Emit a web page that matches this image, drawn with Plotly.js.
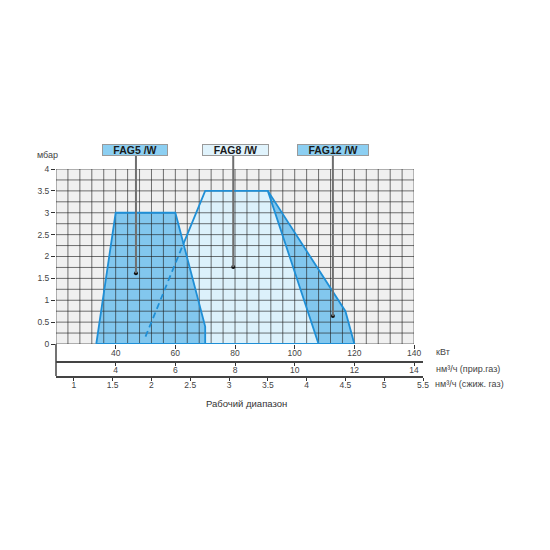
<!DOCTYPE html>
<html><head><meta charset="utf-8">
<script src="https://cdn.plot.ly/plotly-3.0.1.min.js"></script>
<style>body{margin:0;background:#fff}</style>
</head><body>
<div id="chart" style="width:550px;height:550px"></div>
<script>
// ---- data ----
const kwTicks = [40, 60, 80, 100, 120, 140];
const kwTickText = ['40', '60', '80', '100', '120', '140'];
const natTicks = [4, 6, 8, 10, 12, 14];
const natTickText = ['4', '6', '8', '10', '12', '14'];
const lpgTicks = [1, 1.5, 2, 2.5, 3, 3.5, 4, 4.5, 5, 5.5];
const lpgTickText = ['1', '1.5', '2', '2.5', '3', '3.5', '4', '4.5', '5', '5.5'];
const pressTicks = [0, 0.5, 1, 1.5, 2, 2.5, 3, 3.5, 4];
const pressTickText = ['0', '0.5', '1', '1.5', '2', '2.5', '3', '3.5', '4'];

const fag5X = [33.5, 40, 60, 70, 70];
const fag5Y = [0, 3, 3, 0.4, 0];
const fag8X = [49, 70, 91, 108];
const fag8Y = [0, 3.5, 3.5, 0];
const fag12X = [91, 117, 120, 108];
const fag12Y = [3.5, 0.75, 0, 0];
const fag8SolidX = [62.7, 70, 91, 108, 70];
const fag8SolidY = [2.29, 3.5, 3.5, 0, 0];
const fag8DashX = [50, 62.7];
const fag8DashY = [0.17, 2.29];

const models = ['FAG5 /W', 'FAG8 /W', 'FAG12 /W'];
const pointX = [46.8, 79.4, 112.8];
const pointY = [1.62, 1.76, 0.64];
const labelX = [46.6, 80.3, 112.7];

const kwRange = [20, 140];
const pRange = [0, 4];
const kwPerNat = 10;     // kW per nm3/h natural gas
const kwPerLpg = 26;     // kW per nm3/h LPG
const axisEndKw = 143;   // where the lower scales end

// ---- styles ----
const cMid = '#82c7ee', cLight = '#dcf1fb', cEdge = '#1f8fd6', cBg = '#f0f0f0';
const boxFill = ['#8ccff2', '#e0f3fc', '#8ccff2'];
const boxW = [62, 63, 68];
const FONT = 'Liberation Sans, Arial, sans-serif';

// grid lines
const gx = [], gy = [];
for (let v = kwRange[0]; v <= kwRange[1] + 1e-9; v += 4) { gx.push(v, v, null); gy.push(pRange[0], pRange[1], null); }
for (let v = pRange[0]; v <= pRange[1] + 1e-9; v += 0.25) { gx.push(kwRange[0], kwRange[1], null); gy.push(v, v, null); }

const traces = [
  {x: fag8X, y: fag8Y, fill: 'toself', fillcolor: cLight, mode: 'lines', line: {width: 0}, hoverinfo: 'skip'},
  {x: fag5X, y: fag5Y, fill: 'toself', fillcolor: cMid, mode: 'lines', line: {width: 0}, hoverinfo: 'skip'},
  {x: fag12X, y: fag12Y, fill: 'toself', fillcolor: cMid, mode: 'lines', line: {width: 0}, hoverinfo: 'skip'},
  {x: gx, y: gy, mode: 'lines', line: {color: 'rgba(30,30,30,0.62)', width: 1}, hoverinfo: 'skip', connectgaps: false},
  {x: fag5X.concat([fag5X[0]]), y: fag5Y.concat([fag5Y[0]]), mode: 'lines', line: {color: cEdge, width: 1.8}, hoverinfo: 'skip'},
  {x: fag12X, y: fag12Y, mode: 'lines', line: {color: cEdge, width: 1.8}, hoverinfo: 'skip'},
  {x: fag8SolidX, y: fag8SolidY, mode: 'lines', line: {color: cEdge, width: 1.8}, hoverinfo: 'skip'},
  {x: fag8DashX, y: fag8DashY, mode: 'lines', line: {color: cEdge, width: 1.8, dash: '6px,4px'}, hoverinfo: 'skip'},
  {x: pointX, y: pointY, mode: 'markers', marker: {color: '#111', size: 4}, hoverinfo: 'skip'},
  // invisible carriers so the two lower scales are drawn
  {x: natTicks, y: natTicks.map(() => pRange[0]), xaxis: 'x2', yaxis: 'y', mode: 'markers', marker: {opacity: 0}, hoverinfo: 'skip'},
  {x: lpgTicks, y: lpgTicks.map(() => pRange[0]), xaxis: 'x3', yaxis: 'y', mode: 'markers', marker: {opacity: 0}, hoverinfo: 'skip'}
];

const W = 550, H = 550;
const mL = 56, mR = 127, mT = 169, mB = 174;
const plotW = W - mL - mR, plotH = H - mT - mB;
const yDom0 = 32 / plotH;
const xDom1 = (kwRange[1] - kwRange[0]) / (axisEndKw - kwRange[0]);

const tickFont = {family: FONT, size: 8.5, color: '#444'};

const shapes = [
  {type: 'rect', xref: 'x', yref: 'y', x0: kwRange[0], x1: kwRange[1], y0: pRange[0], y1: pRange[1], fillcolor: cBg, line: {width: 0}, layer: 'below'},
  {type: 'line', xref: 'paper', yref: 'paper', x0: 0, x1: 0, y0: 0, y1: yDom0, line: {color: '#444', width: 1.5}}
];
pointX.forEach((px, i) => {
  shapes.push({type: 'line', xref: 'x', yref: 'y domain', x0: px, x1: px, y0: pointY[i] / pRange[1], y1: 1.077,
    line: {color: '#6f6f6f', width: 2}});
});

const annotations = models.map((m, i) => ({
  text: '<b>' + m + '</b>', xref: 'x', yref: 'y domain', x: labelX[i], y: 1.111, xanchor: 'center', yanchor: 'middle',
  showarrow: false, bgcolor: boxFill[i], bordercolor: '#9a9a9a', borderwidth: 1, borderpad: 1, width: boxW[i], height: 8,
  font: {family: FONT, size: 10.5, color: '#1a1a1a'}
}));
const sideFont = {family: FONT, size: 9, color: '#444'};
annotations.push(
  {text: 'мбар', xref: 'paper', yref: 'paper', x: -0.022, y: (plotH - (155 - mT)) / plotH, xanchor: 'center', yanchor: 'middle', showarrow: false, font: sideFont},
  {text: 'кВт', xref: 'paper', yref: 'paper', x: (434 - mL) / plotW, y: (plotH - (352 - mT)) / plotH, xanchor: 'left', yanchor: 'middle', showarrow: false, font: sideFont},
  {text: 'нм³/ч (прир.газ)', xref: 'paper', yref: 'paper', x: (434 - mL) / plotW, y: (plotH - (369 - mT)) / plotH, xanchor: 'left', yanchor: 'middle', showarrow: false, font: sideFont},
  {text: 'нм³/ч (сжиж. газ)', xref: 'paper', yref: 'paper', x: (433 - mL) / plotW, y: (plotH - (384 - mT)) / plotH, xanchor: 'left', yanchor: 'middle', showarrow: false, font: sideFont},
  {text: 'Рабочий диапазон', xref: 'paper', yref: 'paper', x: (246 - mL) / plotW, y: (plotH - (403 - mT)) / plotH, xanchor: 'center', yanchor: 'middle', showarrow: false, font: {family: FONT, size: 9.5, color: '#333'}}
);

const layout = {
  width: W, height: H,
  margin: {l: mL, r: mR, t: mT, b: mB, pad: 0},
  paper_bgcolor: '#fff', plot_bgcolor: 'rgba(0,0,0,0)',
  showlegend: false,
  xaxis: {domain: [0, xDom1], range: kwRange, anchor: 'y', showgrid: false, zeroline: false, showline: false,
    tickmode: 'array', tickvals: kwTicks, ticktext: kwTickText, ticks: 'outside', ticklen: 4, tickcolor: '#333', tickwidth: 1,
    ticklabelstandoff: -3, tickfont: tickFont, fixedrange: true},
  xaxis2: {domain: [0, 1], range: [kwRange[0] / kwPerNat, axisEndKw / kwPerNat], anchor: 'free', position: 15 / plotH,
    showgrid: false, zeroline: false, showline: true, linecolor: '#444', linewidth: 1.5,
    tickmode: 'array', tickvals: natTicks, ticktext: natTickText, ticks: 'outside', ticklen: 3, tickcolor: '#333',
    ticklabelstandoff: -3, tickfont: tickFont, fixedrange: true},
  xaxis3: {domain: [0, 1], range: [kwRange[0] / kwPerLpg, axisEndKw / kwPerLpg], anchor: 'free', position: 0,
    showgrid: false, zeroline: false, showline: true, linecolor: '#444', linewidth: 1.5,
    tickmode: 'array', tickvals: lpgTicks, ticktext: lpgTickText, ticks: 'outside', ticklen: 3, tickcolor: '#333',
    ticklabelstandoff: -3, tickfont: tickFont, fixedrange: true},
  yaxis: {domain: [yDom0, 1], range: pRange, anchor: 'x', showgrid: false, zeroline: false, showline: false,
    tickmode: 'array', tickvals: pressTicks, ticktext: pressTickText, ticks: 'outside', ticklen: 4, tickcolor: '#333',
    tickfont: tickFont, fixedrange: true},
  shapes: shapes,
  annotations: annotations
};

Plotly.newPlot('chart', traces, layout, {displayModeBar: false, staticPlot: true});
</script>
</body></html>
